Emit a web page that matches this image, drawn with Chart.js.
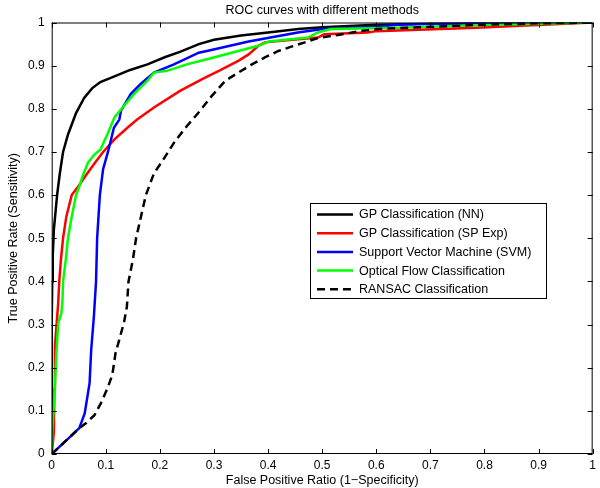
<!DOCTYPE html>
<html>
<head>
<meta charset="utf-8">
<script src="https://cdn.jsdelivr.net/npm/chart.js@4/dist/chart.umd.min.js"></script>
<style>
  body { margin: 0; background: #fff; }
  canvas { display: block; }
</style>
</head>
<body>
<canvas id="roc" width="600" height="488"></canvas>
<script>
// ROC data (false positive ratio / true positive rate)
const nnX = [0, 0, 0.001, 0.002, 0.004, 0.007, 0.01, 0.015, 0.021, 0.03, 0.045, 0.06, 0.075, 0.09, 0.116, 0.145, 0.177, 0.21, 0.237, 0.272, 0.3, 0.35, 0.4, 0.456, 0.5, 0.55, 0.6, 0.7, 0.8, 1];
const nnY = [0, 0.3, 0.4, 0.46, 0.52, 0.56, 0.6, 0.65, 0.7, 0.74, 0.79, 0.825, 0.848, 0.862, 0.875, 0.89, 0.903, 0.92, 0.932, 0.95, 0.96, 0.97, 0.977, 0.985, 0.989, 0.992, 0.995, 0.997, 0.999, 1];

const spX = [0, 0.004, 0.005, 0.006, 0.009, 0.012, 0.014, 0.017, 0.021, 0.027, 0.037, 0.049, 0.064, 0.08, 0.095, 0.116, 0.14, 0.158, 0.189, 0.238, 0.28, 0.309, 0.345, 0.364, 0.382, 0.394, 0.455, 0.492, 0.504, 0.584, 0.6, 0.785, 1];
const spY = [0, 0.05, 0.15, 0.25, 0.3, 0.35, 0.4, 0.45, 0.5, 0.55, 0.6, 0.62, 0.647, 0.675, 0.7, 0.729, 0.756, 0.775, 0.803, 0.842, 0.87, 0.888, 0.911, 0.926, 0.946, 0.954, 0.961, 0.965, 0.973, 0.977, 0.98, 0.988, 1];

const svmX = [0, 0.03, 0.051, 0.061, 0.07, 0.073, 0.078, 0.08, 0.082, 0.084, 0.089, 0.095, 0.104, 0.108, 0.115, 0.125, 0.128, 0.146, 0.164, 0.189, 0.226, 0.272, 0.287, 0.364, 0.455, 0.501, 0.602, 0.639, 0.7, 1];
const svmY = [0, 0.035, 0.06, 0.094, 0.164, 0.241, 0.319, 0.36, 0.4, 0.5, 0.6, 0.66, 0.7, 0.72, 0.756, 0.775, 0.795, 0.834, 0.857, 0.884, 0.903, 0.93, 0.934, 0.956, 0.977, 0.985, 0.99, 0.995, 0.997, 1];

const flowX = [0, 0.001, 0.003, 0.006, 0.009, 0.012, 0.018, 0.02, 0.021, 0.026, 0.03, 0.037, 0.045, 0.051, 0.057, 0.067, 0.079, 0.09, 0.103, 0.116, 0.131, 0.152, 0.177, 0.189, 0.213, 0.25, 0.287, 0.345, 0.382, 0.401, 0.474, 0.492, 0.516, 0.639, 0.8, 1];
const flowY = [0, 0.05, 0.095, 0.16, 0.24, 0.303, 0.327, 0.357, 0.4, 0.45, 0.5, 0.55, 0.6, 0.62, 0.643, 0.675, 0.694, 0.705, 0.741, 0.78, 0.803, 0.834, 0.865, 0.884, 0.888, 0.903, 0.915, 0.934, 0.946, 0.956, 0.965, 0.977, 0.985, 0.988, 0.994, 1];

const ransacX = [0, 0.03, 0.051, 0.063, 0.079, 0.091, 0.103, 0.112, 0.118, 0.125, 0.134, 0.139, 0.142, 0.15, 0.156, 0.165, 0.174, 0.189, 0.205, 0.228, 0.25, 0.274, 0.296, 0.321, 0.345, 0.37, 0.394, 0.419, 0.443, 0.468, 0.492, 0.529, 0.565, 0.602, 0.7, 0.8, 0.9, 1];
const ransacY = [0, 0.035, 0.06, 0.071, 0.09, 0.118, 0.152, 0.183, 0.234, 0.265, 0.307, 0.342, 0.4, 0.45, 0.5, 0.55, 0.6, 0.65, 0.68, 0.725, 0.76, 0.795, 0.83, 0.865, 0.884, 0.903, 0.919, 0.934, 0.944, 0.954, 0.964, 0.971, 0.979, 0.985, 0.99, 0.995, 0.998, 1];

const seriesNames = ["GP Classification (NN)", "GP Classification (SP Exp)", "Support Vector Machine (SVM)", "Optical Flow Classification", "RANSAC Classification"];
const tickValues = [0, 0.1, 0.2, 0.3, 0.4, 0.5, 0.6, 0.7, 0.8, 0.9, 1];
const tickLabels = ["0", "0.1", "0.2", "0.3", "0.4", "0.5", "0.6", "0.7", "0.8", "0.9", "1"];

const FONT = "'Liberation Sans', Arial, Helvetica, sans-serif";

function pts(xs, ys) {
  return xs.map((x, i) => ({ x: x, y: ys[i] }));
}

function series(label, xs, ys, color, dash, order) {
  return {
    label: label,
    data: pts(xs, ys),
    borderColor: color,
    backgroundColor: color,
    borderWidth: 2.5,
    borderDash: dash,
    pointRadius: 0,
    tension: 0,
    fill: false,
    order: order
  };
}

// box round the plot with inward ticks, like the original figure
const frame = {
  id: "frame",
  afterDatasetsDraw(chart) {
    const ctx = chart.ctx;
    const a = chart.chartArea;
    const xs = chart.scales.x, ys = chart.scales.y;
    ctx.save();
    ctx.strokeStyle = "#000";
    ctx.lineWidth = 1;
    ctx.strokeRect(a.left + 0.5, a.top + 0.5, a.right - a.left - 1, a.bottom - a.top - 1);
    ctx.beginPath();
    tickValues.forEach((v) => {
      const px = Math.round(xs.getPixelForValue(v)) + 0.5;
      ctx.moveTo(px, a.bottom); ctx.lineTo(px, a.bottom - 5);
      ctx.moveTo(px, a.top); ctx.lineTo(px, a.top + 5);
      const py = Math.round(ys.getPixelForValue(v)) + 0.5;
      ctx.moveTo(a.left, py); ctx.lineTo(a.left + 5, py);
      ctx.moveTo(a.right, py); ctx.lineTo(a.right - 5, py);
    });
    ctx.stroke();
    ctx.restore();
  }
};

// legend box inside the plot
const boxLegend = {
  id: "boxLegend",
  afterDraw(chart) {
    const ctx = chart.ctx;
    const x0 = 310.5, y0 = 203.5, w = 236, h = 95;
    ctx.save();
    ctx.fillStyle = "#fff";
    ctx.fillRect(x0, y0, w, h);
    ctx.strokeStyle = "#000";
    ctx.lineWidth = 1;
    ctx.strokeRect(x0, y0, w, h);
    ctx.font = "12.5px " + FONT;
    ctx.textBaseline = "middle";
    chart.data.datasets.forEach((ds, i) => {
      const y = 214.5 + i * 18.7;
      ctx.beginPath();
      ctx.setLineDash(ds.borderDash || []);
      ctx.strokeStyle = ds.borderColor;
      ctx.lineWidth = 2.5;
      ctx.moveTo(317, y);
      ctx.lineTo(353, y);
      ctx.stroke();
      ctx.setLineDash([]);
      ctx.fillStyle = "#000";
      ctx.fillText(ds.label, 359, y + 0.5);
    });
    ctx.restore();
  }
};

new Chart(document.getElementById("roc"), {
  type: "line",
  data: {
    datasets: [
      series(seriesNames[0], nnX, nnY, "#000000", [], 3),
      series(seriesNames[1], spX, spY, "#ff0000", [], 4),
      series(seriesNames[2], svmX, svmY, "#0000ff", [], 2),
      series(seriesNames[3], flowX, flowY, "#00ff00", [], 1),
      series(seriesNames[4], ransacX, ransacY, "#000000", [8, 5], 0)
    ]
  },
  options: {
    responsive: false,
    animation: false,
    layout: { padding: { top: 0, right: 3, bottom: 0, left: 0 } },
    plugins: {
      legend: { display: false },
      tooltip: { enabled: false },
      title: {
        display: true,
        text: "ROC curves with different methods",
        fullSize: false,
        color: "#000",
        font: { family: FONT, size: 12.5, weight: "normal" },
        padding: { top: 3, bottom: 4.5 }
      }
    },
    scales: {
      x: {
        type: "linear",
        min: 0,
        max: 1,
        afterBuildTicks: (s) => { s.ticks = tickValues.map((v) => ({ value: v })); },
        afterFit: (s) => { s.height = 34; },
        grid: { display: false, drawTicks: false },
        border: { display: false },
        ticks: {
          color: "#000",
          padding: 4,
          maxRotation: 0,
          font: { family: FONT, size: 12 },
          callback: (v, i) => tickLabels[i]
        },
        title: {
          display: true,
          text: "False Positive Ratio (1\u2212Specificity)",
          color: "#000",
          font: { family: FONT, size: 12.5 },
          padding: { top: 0, bottom: 0 }
        }
      },
      y: {
        type: "linear",
        min: 0,
        max: 1,
        afterBuildTicks: (s) => { s.ticks = tickValues.map((v) => ({ value: v })); },
        afterFit: (s) => { s.width = 51.7; },
        grid: { display: false, drawTicks: false },
        border: { display: false },
        ticks: {
          color: "#000",
          padding: 7,
          font: { family: FONT, size: 12 },
          callback: (v, i) => tickLabels[i]
        },
        title: {
          display: true,
          text: "True Positive Rate (Sensitivity)",
          color: "#000",
          font: { family: FONT, size: 12.5 },
          padding: { top: 6, bottom: 0 }
        }
      }
    }
  },
  plugins: [frame, boxLegend]
});
</script>
</body>
</html>
